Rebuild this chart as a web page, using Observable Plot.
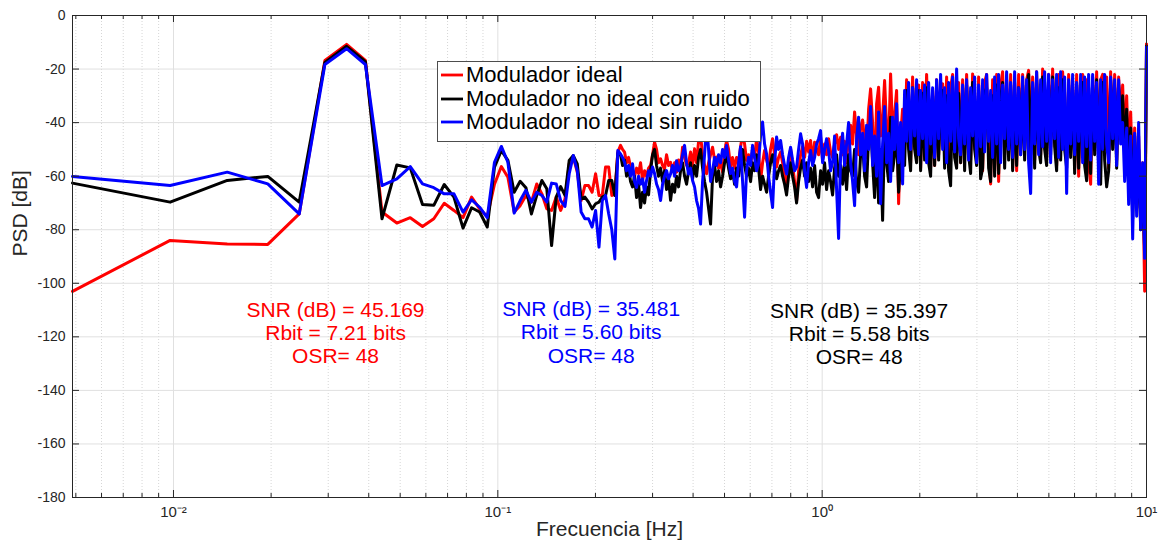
<!DOCTYPE html>
<html>
<head>
<meta charset="utf-8">
<script src="https://cdn.jsdelivr.net/npm/d3@7"></script>
<script src="https://cdn.jsdelivr.net/npm/@observablehq/plot@0.6"></script>
<style>
  html, body { margin: 0; padding: 0; background: #fff; }
  #wrap { position: relative; width: 1158px; height: 544px; font-family: "Liberation Sans", Arial, sans-serif; }
  #legend { position: absolute; left: 437px; top: 61px; width: 324px; height: 81px; box-sizing: border-box;
            border: 1px solid #4d4d4d; background: #fff; }
  .row { position: absolute; left: 0; height: 22px; line-height: 22px; font-size: 22px; color: #000; white-space: nowrap; }
  .row svg { position: absolute; left: 2px; top: 0; }
  .row span { position: absolute; left: 28px; top: 0; }
</style>
</head>
<body>
<div id="wrap"><div id="legend"></div></div>
<script>
// ---------- DATA ----------
const df = 10 / 2048;                       // frequency bin (Hz)
const seriesNames = ["Modulador ideal", "Modulador no ideal con ruido", "Modulador no ideal sin ruido"];
const seriesColors = ["#ff0000", "#000000", "#0000ff"];

// individual low-frequency bins k = 1..48 (dB)
const redLow = [-103,-84,-85.3,-85.5,-74.1,-16.8,-10.8,-16.8,-73.4,-77.5,
  -75.5,-78.8,-75.9,-70.1,-72.8,-75.5,-67.8,-72.2,-75.1,-63,
  -56.4,-60.4,-73.4,-71,-67.2,-69.7,-62.9,-66.6,-72.2,-72.8,
  -67.8,-72.8,-68.5,-55.4,-52.9,-58.5,-69.1,-63.5,-63.5,-66,
  -59.1,-67.2,-67.2,-56.6,-56.6,-67.2,-66.5,-51];
const blackLow = [-62.6,-69.7,-61.6,-60.1,-69.7,-17.5,-11.5,-17.2,-75.9,-55.8,
  -56.9,-70.6,-70.9,-63.1,-67.8,-79.4,-71.8,-73.4,-79,-56.6,
  -50.4,-54.1,-66,-61.9,-64.3,-74.1,-67.2,-61.6,-64.7,-85.9,
  -67.8,-63.9,-67.2,-54.1,-52.3,-55.4,-68.5,-67.8,-69.7,-72.2,
  -70.3,-69.7,-67.8,-67.2,-61.6,-61.6,-67.2,-51.5];
const blueLow = [-60.1,-63.5,-58.5,-62.9,-74.1,-18.3,-12.4,-18.3,-63.5,-61,
  -56.4,-62.9,-64.3,-66.6,-66.6,-73.4,-68.8,-71.6,-75.5,-54.8,
  -48.9,-54.8,-73.8,-69.1,-65.3,-69.7,-66,-67.2,-69.7,-62.6,
  -62.9,-69.1,-71.3,-59.1,-52.3,-57.9,-73.4,-75.9,-75.9,-79,
  -72.8,-86.5,-69.1,-67.2,-74.1,-80,-90.9,-50.4];

// dense region, log-spaced readings from 0.239 Hz to 9.87 Hz (dB)
const denseStart = 0.239, denseEnd = 9.87;
const redDense = [-48.5,-50,-51,-55,-53,-56.6,-58,-60,-57,-59,-55,-61.6,-58,-60,-57,-56,-52,-47.3,-50,-55,-53.5,-56,-57.3,-52,-56,-54.8,-58,-55,-58.5,-54,-57,-49.2,-53,-56,-55,-51,-56,-49.8,-55,-47,-44.8,
  -52,-56,-59.1,-55,-52,-49.2,-54,-52.9,-57,-55,-58.5,-51,-46.7,-50,-56.6,-53,-57,-53,-55,-49,-44.2,-48,-54.1,-52,-56,-49.8,-53,-46,-51,-61.6,-55,-50.4,-54,-56.6,-50,-46,-52,-56.6,-53,-51,-55,-60,-64.2,-55,-49.8,-56,-62,-69.2,-58,-52,
  -49,-53,-47,-51,-46.7,-55,-47.3,-50,-52,-45.4,-54,-48,-52,-46,-51,-53,-48,-44.5,-50,-45.5,-52,-47,-55,-44,-41,-48,-36,-45,-52,-42,-39,-47,-53,-35,-27.4,-40,-62,-33,-26.8,-45,-38,-24.3,-42,-48,-21.8,-44,-37,-28,-70.3,-45,
  -35,-50,-24,-46,-55,-23,-48,-52,-26,-57,-25,-50,-22,-47,-56.7,-28,-56,-24,-52,-26,
  -25.5,-50,-23,-54,-27,-22,-49,-50.4,-25,-55,-24,-52,-22,-49,-54,-21.8,-47,-53,-23,-55,
  -58,-25,-22,-51,-62.9,-24,-58,-22,-62,-26,-21,-52,-24,-50,-22,-57,-25,-58,-22,-50,
  -22,-50,-24,-20.5,-48,-23,-54,-21,-46,-52,-20,-47,-53,-22,-49,-20,-45,-56,-22,-50,
  -21,-47,-54,-22,-50,-25,-57,-22,-60,-27,-22,-52,-24,-55,-63,-23,-49,-21,-54,-24,
  -22,-50,-23,-57,-21,-48,-22,-54,-23,-40,
  -26,-48,-30,-55,-36,-62,-42,-70,-45,-78,-55,-103];
const blackDense = [-52,-56,-54,-60,-57,-62,-64,-60,-68,-63,-71.7,-66,-70,-64,-67,-58,-52,-50,-56,-60,-57,-62,-58,-65,-61,-69,-63,-66,-60,-64,-58,-55,-60,-63,-58,-55,-61,-56,-60,-53,-50,
  -57,-62,-66,-72,-77.9,-60,-56,-62,-58,-64,-60,-55,-52,-57,-61,-58,-63,-57,-60,-55,-50,-56,-60,-57,-62,-55,-58,-52,-57,-65,-60,-63,-66,-60,-55,-52,-57,-61,-58,-56,-60,-63,-67,-60,-55,-60,-64,-70,-62,-57,
  -54,-60,-55,-62,-57,-64,-56,-66,-68,-58,-63,-55,-65,-58,-62,-67,-57,-52,-60,-56,-63,-55,-65,-52,-58,-60,-50,-62,-66,-52,-48,-60,-64,-45,-40,-55,-68,-47,-70,-50,-76.5,-42,-55,-62,-38,-58,-52,-45,-66,-55,
  -45,-56,-28,-50,-58,-27,-50,-55,-28,-58,-29,-54,-27,-55,-60,-30,-56,-28,-54,-32,
  -28,-57,-30,-58,-63.6,-28,-53,-57,-29,-55,-27,-58,-26,-52,-59,-25,-50,-56,-28,-61,
  -57,-29,-27,-57,-62,-30,-60,-26,-59,-31,-25,-57,-29,-54,-26,-58,-30,-56,-27,-52,
  -26,-54,-28,-22,-52,-27,-57,-24,-50,-55,-23,-50,-56,-26,-52,-23,-49,-58,-27,-54,
  -24,-50,-57,-26,-53,-28,-59,-26,-57,-30,-25,-56,-61.7,-27,-59,-26,-52,-24,-57,-63,
  -25,-54,-64,-58,-24,-50,-27,-57,-26,-42,
  -30,-52,-35,-60,-42,-76,-45,-72,-50,-80,-60,-88];
const blueDense = [-51.7,-53,-54.8,-58,-56,-60,-55.4,-62,-64.2,-60,-63,-61,-66,-61.6,-58,-60,-56.6,-59,-62.9,-65,-69.1,-63,-60,-57.9,-61,-59.2,-56,-60,-54.2,-58,-56.6,-52,-48.5,-55,-59.2,-57,-61.6,-64,-69.1,-72,-77.9,
  -62,-52,-40.4,-50,-62,-58,-53,-56,-52,-55,-50,-53,-48.5,-54,-59,-57,-62,-64,-55,-49,-62,-75.3,-58,-52.9,-56,-48.5,-53,-58,-55,-45,-39.8,-48,-51.7,-60,-66,-71.7,-55,-45.4,-50,-46.7,-52,-56,-59.2,-53,-49.2,-54,-58,-56.6,-50,-44.2,
  -48,-58,-64.2,-55,-50.4,-56,-53,-48,-46,-43,-55,-50,-46,-50.4,-58,-54.8,-45,-65,-83.3,-52,-44,-56,-48,-40,-55,-62,-71,-46,-38,-52,-44,-58,-41,-50,-34,-56,-45,-60,-36,-70.3,-48,-34,-55,-44,-62,-38,-50,-33,-55,-40,
  -62.9,-28,-47,-25,-50,-27,-45,-24,-52,-28,-46,-26,-55,-25,-48,-27,-53,-24,-46,-22,
  -50,-27,-55,-25,-47,-23,-51,-20,-46,-52,-26,-48,-24,-54,-27,-45,-23,-55,-26,-49,
  -24,-51,-22,-47,-28,-53,-23,-48,-22,-55,-26,-46,-21,-50,-25,-53,-21,-48,-27,-52,
  -23,-50,-24,-55,-66.5,-25,-48,-21,-52,-24,-49,-21,-47,-22,-55,-24,-46,-22,-53,-21,
  -50,-23,-66.5,-24,-48,-22,-52,-25,-47,-22,-55,-23,-49,-22,-54,-22,-47,-25,-63,-24,
  -50,-22,-48,-55,-23,-46,-24,-56,-24,-48,
  -40,-62,-42,-70.6,-45,-83.5,-44,-75,-40,-80,-55,-90.7];

// value at the last bin (10 Hz)
const lastValues = [-10.6, -11.5, -11.8];

// tick values / labels
const xMajor = [0.01, 0.1, 1, 10];
const xMajorLabels = ["10\u207B\u00B2", "10\u207B\u00B9", "10\u2070", "10\u00B9"];
const yTicks = [-180, -160, -140, -120, -100, -80, -60, -40, -20, 0];

// annotation texts
const annotRed = ["SNR (dB) = 45.169", "Rbit = 7.21 bits", "OSR= 48"];
const annotBlue = ["SNR (dB) = 35.481", "Rbit = 5.60 bits", "OSR= 48"];
const annotBlack = ["SNR (dB) = 35.397", "Rbit = 5.58 bits", "OSR= 48"];

// ---------- BUILD ----------
const lowFreq = d3.range(1, 49).map(k => k * df);
function denseFreq(n) {
  const a = Math.log10(denseStart), b = Math.log10(denseEnd);
  return d3.range(n).map(i => Math.pow(10, a + (b - a) * i / (n - 1)));
}
function buildSeries(low, dense, last, name) {
  const f = [...lowFreq, ...denseFreq(dense.length), 10];
  const v = [...low, ...dense, last];
  return f.map((x, i) => ({ f: x, db: v[i], s: name }));
}
const red = buildSeries(redLow, redDense, lastValues[0], seriesNames[0]);
const black = buildSeries(blackLow, blackDense, lastValues[1], seriesNames[1]);
const blue = buildSeries(blueLow, blueDense, lastValues[2], seriesNames[2]);

const xMinor = [];
for (const d of [-3, -2, -1, 0]) for (let m = 2; m <= 9; m++) {
  const v = m * Math.pow(10, d);
  if (v > df && v < 10) xMinor.push(v);
}

// layout
const W = 1158, H = 544, mL = 72, mR = 12, mT = 15, mB = 47;
const pw = W - mL - mR, ph = H - mT - mB;
const annotPos = [
  { f: 0.0316, rows: [-110.0, -118.7, -127.4], color: seriesColors[0], texts: annotRed },
  { f: 0.194, rows: [-109.7, -118.4, -127.1], color: seriesColors[2], texts: annotBlue },
  { f: 1.30, rows: [-110.3, -119.0, -127.7], color: seriesColors[1], texts: annotBlack }
];
const annot = annotPos.flatMap(a => a.texts.map((t, i) => ({ f: a.f, db: a.rows[i], t, c: a.color })));

const ink = "#262626";
const lw = 3;
const chart = Plot.plot({
  width: W, height: H,
  marginLeft: mL, marginRight: mR, marginTop: mT, marginBottom: mB,
  style: { fontFamily: "Liberation Sans, Arial, sans-serif", fontSize: "14px", color: ink, background: "#fff" },
  x: { type: "log", domain: [df, 10] },
  y: { domain: [-180, 0] },
  marks: [
    Plot.ruleX(xMinor, { stroke: "#d6d6d6", strokeDasharray: "1,2" }),
    Plot.ruleX(xMajor.slice(0, 3), { stroke: "#e0e0e0" }),
    Plot.ruleY(yTicks.slice(1), { stroke: "#e0e0e0" }),
    Plot.line(red, { x: "f", y: "db", stroke: seriesColors[0], strokeWidth: lw, strokeLinejoin: "round" }),
    Plot.line(black, { x: "f", y: "db", stroke: seriesColors[1], strokeWidth: lw, strokeLinejoin: "round" }),
    Plot.line(blue, { x: "f", y: "db", stroke: seriesColors[2], strokeWidth: lw, strokeLinejoin: "round" }),
    Plot.frame({ stroke: ink }),
    Plot.tickX(xMajor, { x: d => d, stroke: ink, insetTop: ph - 7 }),
    Plot.tickX(xMajor, { x: d => d, stroke: ink, insetBottom: ph - 7 }),
    Plot.tickX(xMinor, { x: d => d, stroke: ink, insetTop: ph - 4 }),
    Plot.tickX(xMinor, { x: d => d, stroke: ink, insetBottom: ph - 4 }),
    Plot.tickY(yTicks, { y: d => d, stroke: ink, insetRight: pw - 7 }),
    Plot.tickY(yTicks, { y: d => d, stroke: ink, insetLeft: pw - 7 }),
    Plot.axisX(xMajor, { tickSize: 0, tickPadding: 9, fontSize: 15, tickFormat: d => xMajorLabels[xMajor.indexOf(d)], label: null, fill: ink }),
    Plot.axisY(yTicks, { tickSize: 0, tickPadding: 7, fontSize: 14, tickFormat: d => String(d), label: null, fill: ink }),
    Plot.text(["Frecuencia [Hz]"], { frameAnchor: "bottom", dy: 38, fontSize: 21, fill: ink }),
    Plot.text(["PSD [dB]"], { frameAnchor: "left", rotate: -90, dx: -52, fontSize: 21, fill: ink }),
    Plot.text(annot, { x: "f", y: "db", text: "t", fill: "c", fontSize: 21, textAnchor: "middle" })
  ]
});
document.getElementById("wrap").prepend(chart);

// legend (HTML overlay)
const legend = document.getElementById("legend");
const rowCenters = [13, 36.5, 59.5];
seriesNames.forEach((name, i) => {
  const row = document.createElement("div");
  row.className = "row";
  row.style.top = (rowCenters[i] - 11) + "px";
  row.innerHTML = `<svg width="24" height="22"><line x1="1" x2="23" y1="11" y2="11" stroke="${seriesColors[i]}" stroke-width="2.8"/></svg><span>${name}</span>`;
  legend.appendChild(row);
});
</script>
</body>
</html>
